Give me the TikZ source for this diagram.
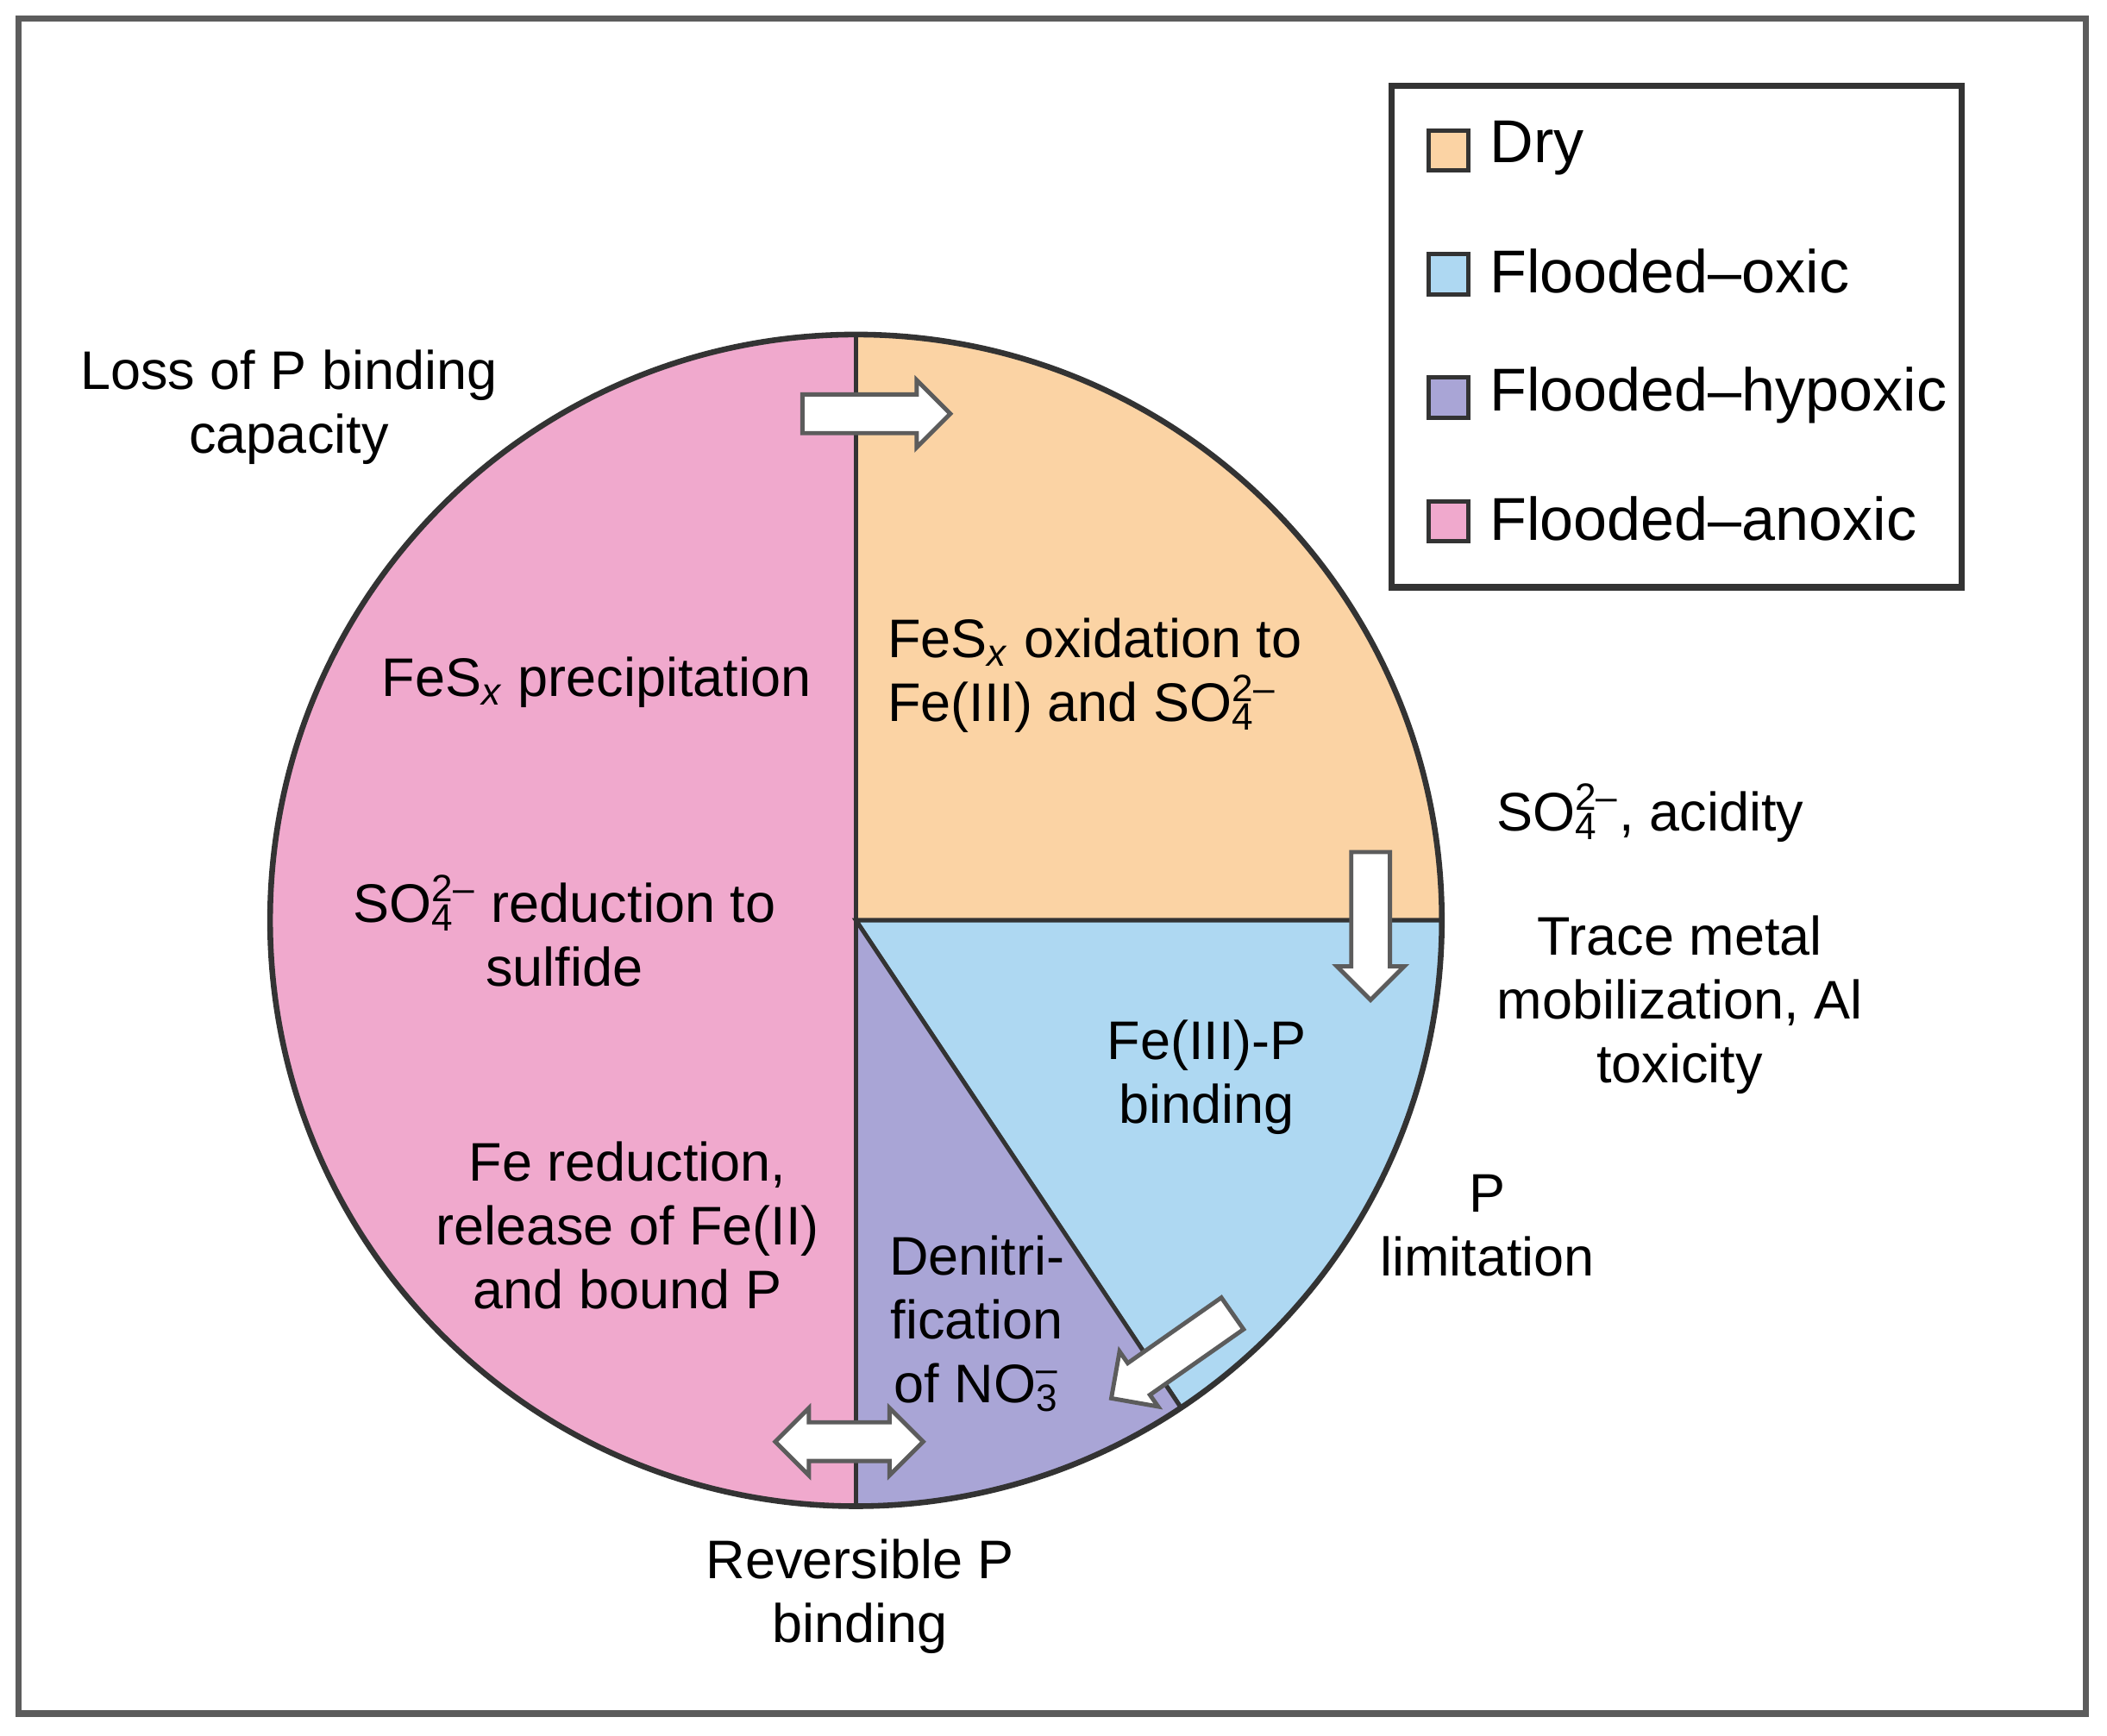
\documentclass[tikz,border=0pt]{standalone}
\usepackage{fontspec}
\setmainfont{Liberation Sans}
\usetikzlibrary{shapes.arrows}
\definecolor{dry}{HTML}{FBD3A4}
\definecolor{oxic}{HTML}{AED8F2}
\definecolor{hyp}{HTML}{A9A5D6}
\definecolor{anox}{HTML}{F0A9CD}
\definecolor{edge}{HTML}{333333}
\newcommand{\sulf}{SO\rlap{\textsubscript{4}}\textsuperscript{2--}}
\begin{document}
\begin{tikzpicture}[x=0.01cm,y=0.01cm,
  txt/.style={align=center,font=\fontsize{11.5}{13.5}\selectfont,inner sep=0},
  blk/.style={draw=edge!80,fill=white,line width=0.9pt,minimum height=1.1cm,minimum width=0.5cm,inner xsep=0,inner ysep=0.12cm},
  sq/.style={draw=edge,line width=0.9pt,minimum size=0.3cm,inner sep=0},
  lg/.style={txt,anchor=west,font=\fontsize{12.8}{15}\selectfont}]
\useasboundingbox (0,0) rectangle (1568,1292);
\node[draw=edge!80,line width=1.3pt,minimum width=15.38cm,minimum height=12.61cm,inner sep=0] (frame) at (783,647.5) {};
\coordinate (c) at (637,607);
\begin{scope}[shift={(c)}]
\filldraw[fill=anox,draw=edge,line width=0.9pt] (0,0) -- (90:436) arc (90:270:436) -- cycle;
\filldraw[fill=dry,draw=edge,line width=0.9pt] (0,0) -- (90:436) arc (90:0:436) -- cycle;
\filldraw[fill=oxic,draw=edge,line width=0.9pt] (0,0) -- (0:436) arc (0:-56.3:436) -- cycle;
\filldraw[fill=hyp,draw=edge,line width=0.9pt] (0,0) -- (-56.3:436) arc (-56.3:-90:436) -- cycle;
\draw[edge,line width=1.2pt] (0,0) circle (436);
\end{scope}
% legend
\node[draw=edge,line width=1.3pt,minimum width=4.24cm,minimum height=3.73cm,inner sep=0] (leg) at (1248,1041.5) {};
\node[sq,fill=dry] (s1) at (1078,1180) {};
\node[sq,fill=oxic] (s2) at (1078,1088) {};
\node[sq,fill=hyp] (s3) at (1078,996) {};
\node[sq,fill=anox] (s4) at (1078,904) {};
\node[lg] (l1) at (1108,1182) {Dry};
\node[lg] (l2) at (1108,1090) {Flooded–oxic};
\node[lg] (l3) at (1108,998) {Flooded–hypoxic};
\node[lg] (l4) at (1108,906) {Flooded–anoxic};
% arrows
\node[blk,single arrow,single arrow head extend=0.1cm] (a1) at (645,984) {};
\node[blk,single arrow,single arrow head extend=0.1cm,rotate=-90] (a2) at (1020,610) {};
\node[blk,single arrow,single arrow head extend=0.1cm,rotate=215] (a3) at (878,287) {};
\node[blk,double arrow,double arrow head extend=0.1cm] (a4) at (632,219) {};
% texts
\node[txt] (t1) at (215,989) {Loss of P binding\\capacity};
\node[txt] (t2) at (444,784) {FeS\textsubscript{\itshape x} precipitation};
\node[txt] (t3) at (420,599) {\sulf\ reduction to\\sulfide};
\node[txt] (t4) at (467,380) {Fe reduction,\\release of Fe(II)\\and bound P};
\node[txt,align=left,anchor=west] (t5) at (660,789) {FeS\textsubscript{\itshape x} oxidation to\\Fe(III) and \sulf};
\node[txt] (t6) at (1228,687) {\sulf, acidity};
\node[txt] (t7) at (1250,544) {Trace metal\\mobilization, Al\\toxicity};
\node[txt] (t8) at (898,490) {Fe(III)-P\\binding};
\node[txt] (t9) at (1107,380) {P\\limitation};
\node[txt] (t10) at (727,307) {Denitri-\\fication\\of NO\rlap{\textsubscript{3}}\textsuperscript{--}};
\node[txt] (t11) at (640,104) {Reversible P\\binding};
\end{tikzpicture}
\end{document}
